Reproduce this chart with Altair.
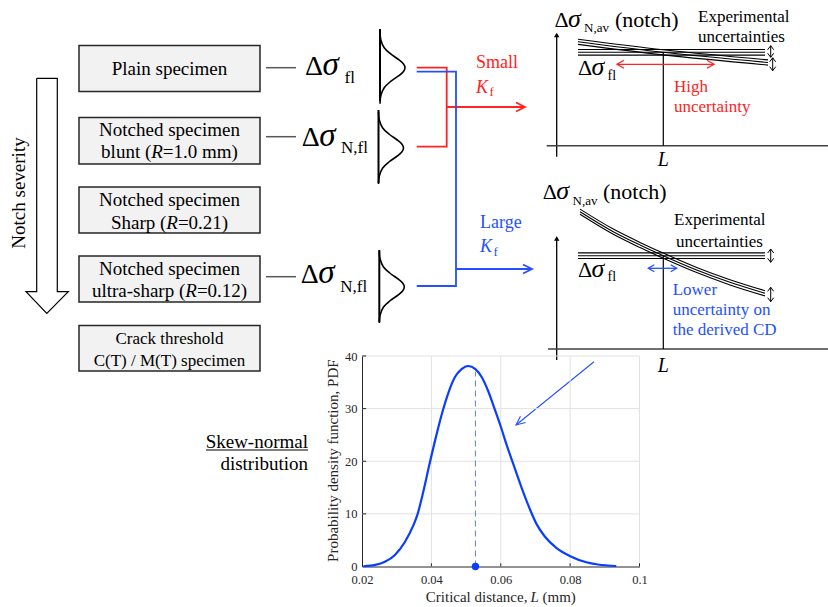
import math
import altair as alt
import pandas as pd

W, H = 828, 607
SERIF = "Liberation Serif"
RED = "#ff2323"
BLUE = "#2450ff"
CURVE = "#0b3dff"
AXC = "#262626"

# ---------------- data ----------------
L_mm = [0.0204, 0.0238, 0.0266, 0.0295, 0.0324, 0.0348, 0.0360, 0.0377, 0.0393,
        0.0412, 0.0432, 0.0450, 0.0468, 0.0487, 0.0506, 0.0527, 0.0545, 0.0564,
        0.0582, 0.0600, 0.0617, 0.0636, 0.0660, 0.0684, 0.0703, 0.0727, 0.0761,
        0.0799, 0.0847, 0.0880, 0.0933]
pdf = [0.05, 0.3, 0.9, 2.2, 4.7, 7.8, 9.9, 14.3, 19.0,
       24.3, 29.4, 33.2, 36.0, 37.5, 38.1, 37.5, 36.0, 33.3,
       30.0, 26.6, 23.1, 19.5, 15.0, 10.9, 8.1, 5.7, 3.5,
       2.0, 0.8, 0.38, 0.1]
mean_L = [0.0527]
mean_pdf = [37.0]
x_ticks = [0.02, 0.04, 0.06, 0.08, 0.1]
y_ticks = [0, 10, 20, 30, 40]
x_grid = [0.04, 0.06, 0.08, 0.1]
y_grid = [10, 20, 30, 40]

# bell profile of the small distribution sketches (offset along, bulge)
bell_dy = [-36, -28, -20, -14, -8, -4, 0, 4, 8, 14, 20, 28, 36]
bell_dx = [0, 0.8, 4.2, 10.4, 18.8, 23.3, 25, 23.3, 18.8, 10.4, 4.2, 0.8, 0]

# ---------------- diagram (pixel) coordinate helpers ----------------
def DX(f="x"):
    return alt.X(f, type="quantitative", axis=None,
                 scale=alt.Scale(domain=[0, W], range=[0, W], nice=False, zero=False))

def DY(f="y"):
    return alt.Y(f, type="quantitative", axis=None,
                 scale=alt.Scale(domain=[0, H], range=[0, H], nice=False, zero=False))

layers = []

def T(x, y, s, size=19, color="black", style="normal", align="left",
      baseline="middle", angle=0):
    df = pd.DataFrame({"x": [x], "y": [y], "t": [s]})
    layers.append(alt.Chart(df).mark_text(
        font=SERIF, fontSize=size, color=color, fontStyle=style, align=align,
        baseline=baseline, angle=angle).encode(x=DX(), y=DY(), text="t:N"))

def P(lines, color="black", width=1.5, interp="linear", dash=None):
    rows = []
    for k, pts in enumerate(lines):
        for i, (px, py) in enumerate(pts):
            rows.append({"x": px, "y": py, "o": i, "s": k})
    kw = dict(color=color, strokeWidth=width, interpolate=interp)
    if dash:
        kw["strokeDash"] = dash
    layers.append(alt.Chart(pd.DataFrame(rows)).mark_line(**kw).encode(
        x=DX(), y=DY(), order="o:Q", detail="s:N"))

def head(tip, frm, L=9, w=4.5):
    dx, dy = tip[0] - frm[0], tip[1] - frm[1]
    n = math.hypot(dx, dy)
    ux, uy = dx / n, dy / n
    return [(tip[0] - ux * L - uy * w, tip[1] - uy * L + ux * w), tip,
            (tip[0] - ux * L + uy * w, tip[1] - uy * L - ux * w)]

def arrow(a, b, color, width=1.8, L=9, w=4.5, both=False):
    segs = [[a, b], head(b, a, L, w)]
    if both:
        segs.append(head(a, b, L, w))
    P(segs, color=color, width=width)

# ---------------- left column: boxes ----------------
boxes = pd.DataFrame({"x": [79] * 5, "x2": [260] * 5,
                      "y": [45.5, 117.5, 187, 256, 325.5],
                      "y2": [91.5, 164, 233, 302, 371]})
layers.append(alt.Chart(boxes).mark_rect(fill="#f2f2f2", stroke="#262626", strokeWidth=1.5)
              .encode(x=DX(), x2="x2", y=DY(), y2="y2"))

CX = 169.5
T(CX, 68.5, "Plain specimen", align="center")
T(CX, 129.5, "Notched specimen", align="center")
T(101.1, 152, "blunt (")
T(151.2, 152, "R", style="italic")
T(162.8, 152, "=1.0 mm)")
T(CX, 199.5, "Notched specimen", align="center")
T(110.9, 222.5, "Sharp (")
T(166.3, 222.5, "R", style="italic")
T(177.9, 222.5, "=0.21)")
T(CX, 268.5, "Notched specimen", align="center")
T(91.9, 291, "ultra-sharp (")
T(185.3, 291, "R", style="italic")
T(196.9, 291, "=0.12)")
T(CX, 338.5, "Crack threshold", size=17, align="center")
T(CX, 361, "C(T) / M(T) specimen", size=17, align="center")

# notch severity hollow arrow
P([[(36.7, 78.3), (57.3, 78.3), (57.3, 291.7), (68.3, 291.7), (46.8, 313.5),
    (26, 291.7), (36.7, 291.7), (36.7, 78.3)]], width=1.2)
T(18.5, 193, "Notch severity", align="center", angle=270)

# gray connectors
P([[(266, 67.7), (296, 67.7)], [(266, 136.7), (296, 136.7)],
   [(266, 276.7), (296, 276.7)]], color="#595959", width=1.5)

# delta sigma labels
def dsig(x, y, sub, xs, ys, size=28, ssize=17, ssig=33, gap=17.5):
    T(x, y, "Δ", size=size, baseline="alphabetic")
    T(x + gap, y, "σ", size=ssig, style="italic", baseline="alphabetic")
    T(xs, ys, sub, size=ssize, baseline="alphabetic")

dsig(305, 75, "fl", 344.5, 83.3)
dsig(301.7, 146, "N,fl", 341, 153.3)
dsig(300.7, 283.3, "N,fl", 340.3, 291.7)

# small bell sketches
for (lx, top, bot, cy) in [(380, 29, 101, 67.7), (378.5, 110, 183, 148),
                           (379.3, 250, 322, 287)]:
    P([[(lx, top), (lx, bot)]], width=2)
    P([[(lx + bx, cy + by) for by, bx in zip(bell_dy, bell_dx)]], width=1.6, interp="cardinal")

# red / blue routing
P([[(416.7, 67.7), (446.7, 67.7), (446.7, 146.7), (416.7, 146.7)]], color=RED, width=1.8)
arrow((446.7, 107), (525, 107), RED)
P([[(416.7, 71.7), (456, 71.7), (456, 286), (416.7, 286)]], color=BLUE, width=1.8)
arrow((456, 269), (532, 269), BLUE)

T(476, 63, "Small", size=18, color=RED)
T(476, 88, "K", size=18, color=RED, style="italic")
T(489.5, 96, "f", size=13, color=RED, baseline="alphabetic")
T(480, 223.3, "Large", size=18, color=BLUE)
T(480, 246.7, "K", size=18, color=BLUE, style="italic")
T(493.5, 256, "f", size=13, color=BLUE, baseline="alphabetic")

# ---------------- top-right sketch ----------------
P([[(556.7, 156.7), (556.7, 34)]], width=1.3)
layers.append(alt.Chart(pd.DataFrame({"x": [556.7], "y": [35]})).mark_point(
    shape="triangle-up", filled=True, size=30, color="black", opacity=1).encode(x=DX(), y=DY()))
P([[(546.7, 145.7), (828, 145.7)]], color="#404040", width=1.5)
P([[(663.3, 52.3), (663.3, 145.7)]], width=1.2)
P([[(578, 52.3 + o), (765, 52.3 + o)] for o in (-2.8, 0, 2.8)], width=1.1)
P([[(578, 41.8 + o), (663.3, 52.3 + o), (768, 62.5 + o)] for o in (-2.6, 0, 2.6)],
  width=1.1, interp="monotone")
arrow((770.7, 45.7), (770.7, 57.3), "black", width=1, L=4, w=3, both=True)
arrow((772.7, 57.8), (772.7, 70.7), "black", width=1, L=4, w=3, both=True)
arrow((617, 64.3), (714, 64.3), RED, width=1.3, L=7, w=4, both=True)

T(554.5, 26.7, "Δ", size=22, baseline="alphabetic")
T(568, 26.7, "σ", size=26, style="italic", baseline="alphabetic")
T(584, 31.7, "N,av", size=13, baseline="alphabetic")
T(615, 26.7, "(notch)", size=22, baseline="alphabetic")
T(698, 16.7, "Experimental", size=17)
T(698, 37.3, "uncertainties", size=17)
T(578, 75, "Δ", size=22, baseline="alphabetic")
T(591.5, 75, "σ", size=26, style="italic", baseline="alphabetic")
T(607.5, 80, "fl", size=14, baseline="alphabetic")
T(674, 87.3, "High", size=17, color=RED)
T(674, 107.3, "uncertainty", size=17, color=RED)
T(663.3, 160, "L", size=20, style="italic", align="center")

# ---------------- lower-right sketch ----------------
P([[(556.7, 360), (556.7, 237.5)]], width=1.3)
layers.append(alt.Chart(pd.DataFrame({"x": [556.7], "y": [238.5]})).mark_point(
    shape="triangle-up", filled=True, size=30, color="black", opacity=1).encode(x=DX(), y=DY()))
P([[(548, 349), (828, 349)]], color="#404040", width=1.5)
P([[(663.3, 255.7), (663.3, 349)]], width=1.2)
P([[(578, 255.7 + o), (765, 255.7 + o)] for o in (-2.8, 0, 2.8)], width=1.1)
curve_band = [(580, 211.7), (613.3, 231.7), (640, 245), (663.3, 255.7),
              (696.7, 270), (730, 282.3), (765, 293.3)]
P([[(cx, cy + o) for cx, cy in curve_band] for o in (-2.6, 0, 2.6)],
  width=1.1, interp="monotone")
arrow((770.7, 249), (770.7, 262.3), "black", width=1, L=4, w=3, both=True)
arrow((770.7, 287.3), (770.7, 301.7), "black", width=1, L=4, w=3, both=True)
arrow((648.3, 268.3), (676.7, 268.3), BLUE, width=1.3, L=6, w=3.5, both=True)

T(542.8, 199, "Δ", size=22, baseline="alphabetic")
T(556.3, 199, "σ", size=26, style="italic", baseline="alphabetic")
T(572.5, 205, "N,av", size=13, baseline="alphabetic")
T(603, 199, "(notch)", size=22, baseline="alphabetic")
T(674, 220, "Experimental", size=17)
T(676, 241.7, "uncertainties", size=17)
T(578, 276.7, "Δ", size=22, baseline="alphabetic")
T(591.5, 276.7, "σ", size=26, style="italic", baseline="alphabetic")
T(607.5, 281, "fl", size=14, baseline="alphabetic")
T(672.7, 290, "Lower", size=17, color=BLUE)
T(672.7, 310, "uncertainty on", size=17, color=BLUE)
T(672.7, 330, "the derived CD", size=17, color=BLUE)
T(663.3, 365.7, "L", size=20, style="italic", align="center")

# pointer arrow into the PDF plot
arrow((594, 361.7), (516, 425), BLUE, width=1.1, L=9, w=4)

# skew-normal label
T(308, 441.7, "Skew-normal", size=19, align="right")
P([[(206, 450), (308, 450)]], width=1)
T(308, 464, "distribution", size=19, align="right")

# PDF axis titles
T(333.3, 460.7, "Probability density function, PDF", size=15, color=AXC,
  align="center", angle=270)
T(425.8, 597, "Critical distance,", size=15, color=AXC)
T(530.4, 597, "L", size=15, color=AXC, style="italic")
T(542.5, 597, "(mm)", size=15, color=AXC)

diagram = alt.layer(*layers)

# ---------------- PDF plot with its own scales ----------------
X0, X1, Y0, Y1 = 362, 639.5, 566.5, 356
xsc = alt.Scale(domain=[0.02, 0.1], range=[X0, X1], nice=False, zero=False)
ysc = alt.Scale(domain=[0, 40], range=[Y0, Y1], nice=False, zero=False)
xax = alt.Axis(orient="bottom", offset=-(H - Y0), values=x_ticks, format=".2~f",
               grid=False, ticks=False, domainColor=AXC, domainWidth=1,
               labelFont=SERIF, labelFontSize=12.5, labelColor=AXC, labelPadding=7,
               labelFlush=False, labelOverlap=False, title=None)
yax = alt.Axis(orient="left", offset=-X0, values=y_ticks, format="d",
               grid=False, ticks=False, domainColor=AXC, domainWidth=1,
               labelFont=SERIF, labelFontSize=12.5, labelColor=AXC, labelPadding=5,
               labelOverlap=False, title=None)

def PXe(f):
    return alt.X(f, type="quantitative", scale=xsc, axis=xax)

def PYe(f):
    return alt.Y(f, type="quantitative", scale=ysc, axis=yax)

vgrid = alt.Chart(pd.DataFrame({"g": x_grid, "a": [0] * 4, "b": [40] * 4})).mark_rule(
    color="#e2e2e2", strokeWidth=1).encode(x=PXe("g"), y=PYe("a"), y2="b")
hgrid = alt.Chart(pd.DataFrame({"g": y_grid, "a": [0.02] * 4, "b": [0.1] * 4})).mark_rule(
    color="#e2e2e2", strokeWidth=1).encode(y=PYe("g"), x=PXe("a"), x2="b")
xt = alt.Chart(pd.DataFrame({"g": x_ticks[1:], "a": [0] * 4, "b": [0.6] * 4})).mark_rule(
    color=AXC, strokeWidth=1).encode(x=PXe("g"), y=PYe("a"), y2="b")
yt = alt.Chart(pd.DataFrame({"g": y_ticks[1:], "a": [0.02] * 4, "b": [0.0212] * 4})).mark_rule(
    color=AXC, strokeWidth=1).encode(y=PYe("g"), x=PXe("a"), x2="b")
curve = alt.Chart(pd.DataFrame({"L": L_mm, "pdf": pdf})).mark_line(
    color=CURVE, strokeWidth=2.2, interpolate="monotone").encode(x=PXe("L"), y=PYe("pdf"))
mean_rule = alt.Chart(pd.DataFrame({"L": mean_L, "a": [0], "b": mean_pdf})).mark_rule(
    color="#5b7cff", strokeWidth=1, strokeDash=[6, 4]).encode(x=PXe("L"), y=PYe("a"), y2="b")
mean_pt = alt.Chart(pd.DataFrame({"L": mean_L, "a": [0]})).mark_circle(
    color=CURVE, size=55, opacity=1).encode(x=PXe("L"), y=PYe("a"))

pdf_plot = alt.layer(vgrid, hgrid, xt, yt, curve, mean_rule, mean_pt)

chart = alt.layer(diagram, pdf_plot).resolve_scale(
    x="independent", y="independent").properties(
    width=W, height=H, padding=0, autosize=alt.AutoSizeParams(type="none"),
    background="white").configure_view(stroke=None)

chart.save("out.html", embed_options={"renderer": "svg", "actions": False})
